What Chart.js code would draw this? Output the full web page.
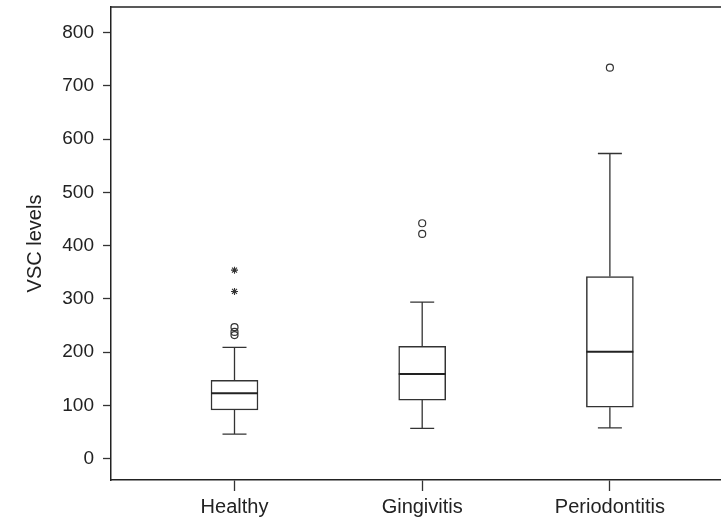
<!DOCTYPE html>
<html>
<head>
<meta charset="utf-8">
<script src="https://cdn.jsdelivr.net/npm/chart.js@4"></script>
<style>
  html, body { margin: 0; padding: 0; background: #fff; }
  #wrap { width: 721px; height: 519px; }
</style>
</head>
<body>
<div id="wrap"><canvas id="myChart" width="721" height="519"></canvas></div>
<script>
// box plot values
const categories = ['Healthy', 'Gingivitis', 'Periodontitis'];
const q1Values = [91.5, 110, 96.5];
const medianValues = [123, 159, 201];
const q3Values = [147, 211, 342];
const whiskerLow = [46, 57, 58];
const whiskerHigh = [209, 294, 573];
const outlierCircles = [[247, 238, 232], [442, 422], [734]];
const outlierStars = [[354, 314], [], []];
const yTicks = [0, 100, 200, 300, 400, 500, 600, 700, 800];

const lineColor = '#333';
const boxWidth = 47;
const capWidth = 24;

const circlePoints = [];
outlierCircles.forEach((vals, i) => vals.forEach(v => circlePoints.push({ x: i + 1, y: v })));
const starPoints = [];
outlierStars.forEach((vals, i) => vals.forEach(v => starPoints.push({ x: i + 1, y: v })));

// whiskers, caps and medians, positioned through the chart scales
const whiskerPlugin = {
    id: 'whiskers',
    afterDatasetsDraw(chart) {
        const { ctx, scales: { x, y }, chartArea } = chart;
        ctx.save();
        categories.forEach((c, i) => {
            const cx = x.getPixelForValue(i + 1);
            ctx.strokeStyle = lineColor;
            ctx.lineWidth = 1.3;
            ctx.beginPath();
            ctx.moveTo(cx, y.getPixelForValue(q3Values[i]));
            ctx.lineTo(cx, y.getPixelForValue(whiskerHigh[i]));
            ctx.moveTo(cx, y.getPixelForValue(q1Values[i]));
            ctx.lineTo(cx, y.getPixelForValue(whiskerLow[i]));
            ctx.moveTo(cx - capWidth / 2, y.getPixelForValue(whiskerHigh[i]));
            ctx.lineTo(cx + capWidth / 2, y.getPixelForValue(whiskerHigh[i]));
            ctx.moveTo(cx - capWidth / 2, y.getPixelForValue(whiskerLow[i]));
            ctx.lineTo(cx + capWidth / 2, y.getPixelForValue(whiskerLow[i]));
            ctx.stroke();
            ctx.lineWidth = 2;
            ctx.strokeStyle = '#222';
            ctx.beginPath();
            ctx.moveTo(cx - boxWidth / 2, y.getPixelForValue(medianValues[i]));
            ctx.lineTo(cx + boxWidth / 2, y.getPixelForValue(medianValues[i]));
            ctx.stroke();
        });
        // top frame line
        ctx.lineWidth = 1.5;
        ctx.strokeStyle = '#222';
        ctx.beginPath();
        ctx.moveTo(chartArea.left, chartArea.top);
        ctx.lineTo(chartArea.right, chartArea.top);
        ctx.stroke();
        ctx.restore();
    }
};

const ctx = document.getElementById('myChart').getContext('2d');
new Chart(ctx, {
    type: 'bar',
    data: {
        datasets: [
            {
                type: 'bar',
                data: categories.map((c, i) => ({ x: i + 1, y: [q1Values[i], q3Values[i]] })),
                backgroundColor: '#fff',
                borderColor: lineColor,
                borderWidth: 1.5,
                borderSkipped: false,
                barThickness: boxWidth
            },
            {
                type: 'scatter',
                data: circlePoints,
                pointStyle: 'circle',
                pointRadius: 3.5,
                borderColor: lineColor,
                backgroundColor: 'rgba(0,0,0,0)',
                borderWidth: 1.2
            },
            {
                type: 'scatter',
                data: starPoints,
                pointStyle: 'star',
                pointRadius: 3.5,
                borderColor: lineColor,
                borderWidth: 1.1
            }
        ]
    },
    options: {
        responsive: false,
        animation: false,
        layout: { autoPadding: false, padding: { top: 7, left: 0, right: 0, bottom: 0 } },
        plugins: {
            legend: { display: false },
            tooltip: { enabled: false }
        },
        scales: {
            x: {
                type: 'linear',
                min: 0.342,
                max: 3.592,
                offset: false,
                afterBuildTicks: (scale) => { scale.ticks = categories.map((c, i) => ({ value: i + 1 })); },
                afterFit: (scale) => { scale.height = 39; scale.paddingLeft = 0; scale.paddingRight = 0; },
                ticks: {
                    callback: (v) => categories[v - 1],
                    color: '#222',
                    font: { family: 'Liberation Sans, Arial, sans-serif', size: 20 },
                    padding: 4,
                    maxRotation: 0,
                    autoSkip: false
                },
                grid: { display: true, offset: false, drawOnChartArea: false, tickLength: 11, tickColor: lineColor, tickWidth: 1.3 },
                border: { display: true, color: '#222', width: 1.5 }
            },
            y: {
                min: -40,
                max: 848,
                afterBuildTicks: (scale) => { scale.ticks = yTicks.map(v => ({ value: v })); },
                afterFit: (scale) => { scale.width = 111; scale.paddingTop = 0; scale.paddingBottom = 0; },
                ticks: {
                    color: '#222',
                    font: { family: 'Liberation Sans, Arial, sans-serif', size: 19 },
                    padding: 9
                },
                grid: { display: true, drawOnChartArea: false, tickLength: 8, tickColor: lineColor, tickWidth: 1.3 },
                border: { display: true, color: '#222', width: 1.5 },
                title: {
                    display: true,
                    text: 'VSC levels',
                    color: '#222',
                    font: { family: 'Liberation Sans, Arial, sans-serif', size: 20 },
                    padding: { top: 23, bottom: 0 }
                }
            }
        }
    },
    plugins: [whiskerPlugin]
});
</script>
</body>
</html>
